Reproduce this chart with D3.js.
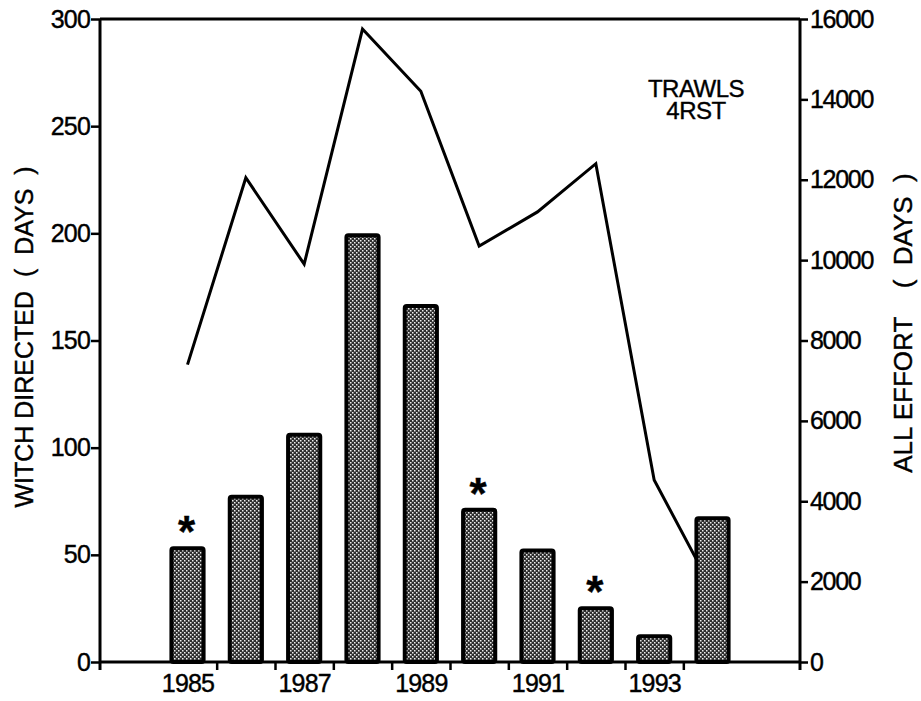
<!DOCTYPE html>
<html>
<head>
<meta charset="utf-8">
<script src="https://cdn.jsdelivr.net/npm/d3@7"></script>
<style>
  body { margin: 0; background: #fff; }
  svg text { font-family: "Liberation Sans", Arial, sans-serif; fill: #000; stroke: #000; stroke-width: 0.4px; }
</style>
</head>
<body>
<div id="chart"></div>
<script>
// data
var years       = [1985, 1986, 1987, 1988, 1989, 1990, 1991, 1992, 1993, 1994];
var witchDays   = [54, 78, 107, 200, 167, 72, 53, 26, 13, 68];          // bars, left axis
var allEffort   = [7400, 12050, 9900, 15750, 14200, 10350, 11200, 12400, 4530, 1800]; // line, right axis
var flagged     = [1985, 1990, 1992];                                   // years marked with *
var leftTicks   = [0, 50, 100, 150, 200, 250, 300];
var rightTicks  = [0, 2000, 4000, 6000, 8000, 10000, 12000, 14000, 16000];
var yearLabels  = [1985, 1987, 1989, 1991, 1993];
var yearBreaks  = [1985.5, 1986.5, 1987.5, 1988.5, 1989.5, 1990.5, 1991.5, 1992.5, 1993.5];

var chart_width  = 921;
var chart_height = 701;
var plotLeft = 100, plotRight = 800, plotTop = 19, plotBottom = 662;

var svg = d3.select("#chart")
    .append("svg")
    .attr("width", chart_width)
    .attr("height", chart_height);

// stipple fill for the bars
var defs = svg.append("defs");
var pat = defs.append("pattern")
    .attr("id", "stipple")
    .attr("patternUnits", "userSpaceOnUse")
    .attr("width", 4)
    .attr("height", 4);
pat.append("rect").attr("width", 4).attr("height", 4).attr("fill", "#2e2e2e");
pat.append("rect").attr("x", 0).attr("y", 0).attr("width", 1.5).attr("height", 1.5).attr("fill", "#eee");
pat.append("rect").attr("x", 2).attr("y", 2).attr("width", 1.5).attr("height", 1.5).attr("fill", "#eee");

var x = d3.scaleLinear().domain([1983.5, 1995.5]).range([plotLeft, plotRight]);
var yL = d3.scaleLinear().domain([0, 300]).range([plotBottom, plotTop]);
var yR = d3.scaleLinear().domain([0, 16000]).range([plotBottom, plotTop]);

var barW = 0.62; // in years

// line first, bars sit on top of it
var line = d3.line()
    .x(function(d, i){ return x(years[i]); })
    .y(function(d){ return yR(d); });

svg.append("path")
    .datum(allEffort)
    .attr("d", line)
    .attr("fill", "none")
    .attr("stroke", "#000")
    .attr("stroke-width", 3)
    .attr("stroke-linejoin", "miter");

svg.selectAll("rect.bar")
    .data(witchDays)
    .enter()
    .append("rect")
    .attr("class", "bar")
    .attr("x", function(d, i){ return x(years[i] - barW / 2) + 2; })
    .attr("y", function(d){ return yL(d) + 2; })
    .attr("width", x(1985 + barW) - x(1985) - 4)
    .attr("height", function(d){ return yL(0) - yL(d) - 2; })
    .attr("rx", 2)
    .attr("fill", "url(#stipple)")
    .attr("stroke", "#000")
    .attr("stroke-width", 4);

// asterisks
svg.selectAll("text.star")
    .data(flagged)
    .enter()
    .append("text")
    .attr("class", "star")
    .attr("x", function(d){ return x(d) - 1; })
    .attr("y", function(d){ return yL(witchDays[years.indexOf(d)]) + 1; })
    .attr("text-anchor", "middle")
    .attr("font-size", 44)
    .attr("font-weight", "bold")
    .text("*");

// frame top line
svg.append("line")
    .attr("x1", plotLeft).attr("x2", plotRight)
    .attr("y1", plotTop).attr("y2", plotTop)
    .attr("stroke", "#000").attr("stroke-width", 3);

// axes
function styleAxis(g) {
    g.selectAll("path.domain").attr("stroke", "#000").attr("stroke-width", 3);
    g.selectAll(".tick line").attr("stroke", "#000").attr("stroke-width", 2.5);
    g.selectAll(".tick text").attr("font-size", 25).attr("fill", "#000")
        .attr("font-family", "Liberation Sans, Arial, sans-serif");
}

var gL = svg.append("g")
    .attr("transform", "translate(" + plotLeft + ",0)")
    .call(d3.axisLeft(yL).tickValues(leftTicks).tickSize(9).tickSizeOuter(0).tickPadding(1));
styleAxis(gL);
gL.select("path.domain").attr("d", "M0," + plotTop + "V" + (plotBottom + 8));
gL.selectAll(".tick text").attr("letter-spacing", -0.8);

var gR = svg.append("g")
    .attr("transform", "translate(" + plotRight + ",0)")
    .call(d3.axisRight(yR).tickValues(rightTicks).tickFormat(d3.format("d")).tickSize(8).tickSizeOuter(0).tickPadding(2));
styleAxis(gR);
gR.select("path.domain").attr("d", "M0," + plotTop + "V" + (plotBottom + 8));
gR.selectAll(".tick text").attr("letter-spacing", -1.3);

var gB = svg.append("g")
    .attr("transform", "translate(0," + plotBottom + ")")
    .call(d3.axisBottom(x).tickValues(yearBreaks).tickFormat("").tickSize(8).tickSizeOuter(0));
styleAxis(gB);
gB.select("path.domain").attr("d", "M" + plotLeft + ",0H" + plotRight);

var gBL = svg.append("g")
    .attr("transform", "translate(0," + plotBottom + ")")
    .call(d3.axisBottom(x).tickValues(yearLabels).tickFormat(d3.format("d")).tickSize(0).tickPadding(12));
styleAxis(gBL);
gBL.select("path.domain").remove();
gBL.selectAll(".tick text").attr("letter-spacing", -0.8);

// axis titles
svg.append("text")
    .attr("transform", "translate(33,337) rotate(-90)")
    .attr("text-anchor", "middle")
    .attr("font-size", 25)
    .style("white-space", "pre")
    .text("WITCH DIRECTED  (  DAYS  )");

svg.append("text")
    .attr("transform", "translate(912,323) rotate(-90)")
    .attr("text-anchor", "middle")
    .attr("font-size", 26)
    .style("white-space", "pre")
    .text("ALL EFFORT    (  DAYS  )");

// panel label, two lines in one text
var panel = svg.append("text")
    .attr("text-anchor", "middle")
    .attr("font-size", 24)
    .attr("letter-spacing", -0.5);
panel.append("tspan").attr("x", 696).attr("y", 97).text("TRAWLS");
panel.append("tspan").attr("x", 696).attr("dy", 22).text("4RST");
</script>
</body>
</html>
